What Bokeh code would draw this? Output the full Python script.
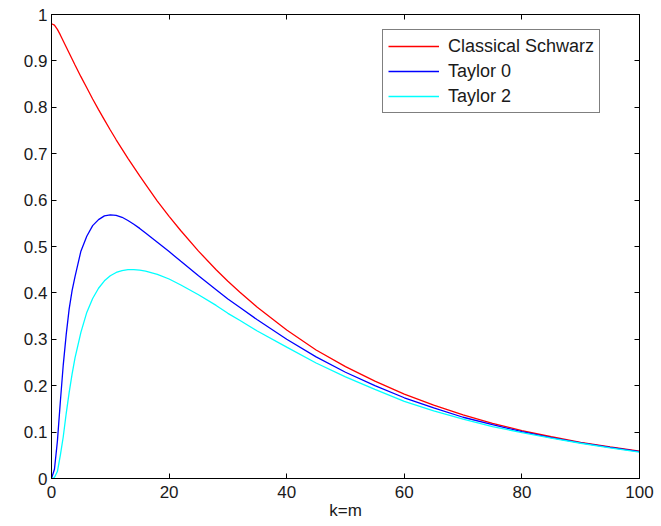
from bokeh.plotting import figure
from bokeh.models import (LinearAxis, FixedTicker, Range1d, Legend, LegendItem)
from bokeh.embed import file_html
from bokeh.resources import INLINE

# ---- data ----
k_values = [0, 0.5, 1, 1.5, 2, 2.5, 3, 3.5, 4, 5, 6, 7, 8, 9, 10, 11, 12, 13, 14, 15, 16,
            18, 20, 22, 25, 28, 30, 32, 35, 40, 45, 50, 55, 60, 65, 70, 75, 80, 85, 90, 95, 100]
classical_schwarz = [0.980, 0.977, 0.968, 0.956, 0.943, 0.930, 0.917, 0.904, 0.891, 0.866, 0.842,
                     0.818, 0.795, 0.773, 0.751, 0.730, 0.710, 0.690, 0.671, 0.652, 0.634,
                     0.598, 0.565, 0.534, 0.490, 0.450, 0.425, 0.402, 0.369, 0.320, 0.277,
                     0.241, 0.210, 0.182, 0.158, 0.137, 0.119, 0.103, 0.090, 0.078, 0.068, 0.059]
taylor_0 = [0.0, 0.02, 0.08, 0.165, 0.245, 0.31, 0.365, 0.405, 0.435, 0.49, 0.522,
            0.545, 0.558, 0.566, 0.568, 0.567, 0.563, 0.556, 0.548, 0.539, 0.529,
            0.509, 0.489, 0.468, 0.437, 0.407, 0.387, 0.369, 0.342, 0.300, 0.262,
            0.229, 0.200, 0.174, 0.152, 0.132, 0.116, 0.101, 0.088, 0.077, 0.067, 0.058]
taylor_2 = [0.0, 0.002, 0.015, 0.05, 0.09, 0.14, 0.185, 0.225, 0.26, 0.315, 0.358,
            0.388, 0.41, 0.426, 0.437, 0.444, 0.448, 0.450, 0.450, 0.449, 0.447,
            0.440, 0.430, 0.417, 0.396, 0.373, 0.356, 0.341, 0.318, 0.283, 0.249,
            0.219, 0.192, 0.166, 0.146, 0.128, 0.112, 0.099, 0.087, 0.076, 0.066, 0.057]
series_names = ["Classical Schwarz", "Taylor 0", "Taylor 2"]
series_colors = ["#ff0000", "#0000ff", "#00ffff"]
x_ticks = [0, 20, 40, 60, 80, 100]
y_ticks = [0, 0.1, 0.2, 0.3, 0.4, 0.5, 0.6, 0.7, 0.8, 0.9, 1]
y_tick_labels = ["0", "0.1", "0.2", "0.3", "0.4", "0.5", "0.6", "0.7", "0.8", "0.9", "1"]
x_label = "k=m"

FONT = "Liberation Sans"
FS = "17px"

p = figure(width=661, height=526, output_backend="svg", toolbar_location=None,
           x_range=Range1d(0, 100), y_range=Range1d(0, 1),
           min_border_left=51, min_border_right=22, min_border_top=14, min_border_bottom=48,
           x_axis_location=None, y_axis_location=None)
p.grid.visible = False
p.outline_line_color = "black"
p.outline_line_width = 1
p.background_fill_color = "white"
p.border_fill_color = "white"


def make_axis(ticks, labels=None, show_labels=True, standoff=0):
    ax = LinearAxis(ticker=FixedTicker(ticks=ticks))
    ax.major_tick_in = 5
    ax.major_tick_out = 0
    ax.minor_tick_in = 0
    ax.minor_tick_out = 0
    ax.axis_line_color = "black"
    ax.axis_line_width = 1
    ax.major_tick_line_color = "black"
    ax.major_tick_line_width = 1
    if show_labels:
        ax.major_label_text_font = FONT
        ax.major_label_text_font_size = FS
        ax.major_label_text_color = "#1a1a1a"
        ax.major_label_standoff = standoff
        if labels is not None:
            ax.major_label_overrides = {t: l for t, l in zip(ticks, labels)}
    else:
        ax.major_label_overrides = {t: "" for t in ticks}
        ax.major_label_text_font_size = "0px"
        ax.major_label_standoff = 0
    return ax


xax = make_axis(x_ticks, [str(t) for t in x_ticks], True, 7)
xax.axis_label = x_label
xax.axis_label_text_font = FONT
xax.axis_label_text_font_size = FS
xax.axis_label_text_font_style = "normal"
xax.axis_label_text_color = "#1a1a1a"
xax.axis_label_standoff = 0
p.add_layout(xax, "below")
p.add_layout(make_axis(y_ticks, y_tick_labels, True, 4), "left")
p.add_layout(make_axis(x_ticks, None, False), "above")
p.add_layout(make_axis(y_ticks, None, False), "right")

renderers = []
for vals, col in zip([classical_schwarz, taylor_0, taylor_2], series_colors):
    r = p.line(k_values, vals, line_color=col, line_width=1.3)
    renderers.append(r)

legend = Legend(items=[LegendItem(label=n, renderers=[r]) for n, r in zip(series_names, renderers)],
                location=(331, 365))
legend.label_text_font = FONT
legend.label_text_font_size = "18px"
legend.label_text_color = "#1a1a1a"
legend.border_line_color = "black"
legend.border_line_width = 1
legend.background_fill_color = "white"
legend.background_fill_alpha = 1
legend.padding = 5
legend.spacing = 3
legend.margin = 0
legend.glyph_width = 51
legend.glyph_height = 22
legend.label_height = 22
legend.label_standoff = 9
p.add_layout(legend, "center")

open("out.html", "w").write(file_html(p, INLINE))
